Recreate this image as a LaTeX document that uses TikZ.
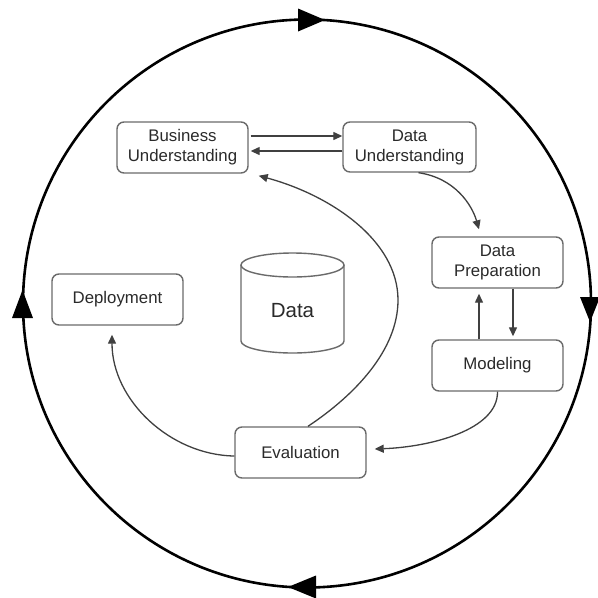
\documentclass[tikz,border=0pt]{standalone}
\usepackage{fontspec}
\setmainfont{Liberation Sans}
\usetikzlibrary{arrows.meta}
\definecolor{boxgray}{HTML}{6A6A6A}
\definecolor{lngray}{HTML}{404040}
\definecolor{txt}{HTML}{2A2A2A}
\begin{document}
\begin{tikzpicture}[x=1pt,y=-1pt,
  box/.style={draw=boxgray, line width=1.4pt, rounded corners=7pt, minimum width=131pt, minimum height=51pt, align=center, font=\fontsize{16.8}{20}\selectfont, text=txt, inner sep=0pt},
  arr/.style={draw=lngray, line width=1.3pt, -{Triangle[length=9pt,width=8pt]}},
  ringtip/.style={fill=black},
  cyl/.style={draw=boxgray, line width=1.4pt}]
\useasboundingbox (0,0) rectangle (598,598);
\fill[white] (0,0) rectangle (598,598);

% outer cycle
\draw[line width=2.6pt] (307,303.5) circle[radius=284];
\fill[ringtip] (325,20) -- (298,8.5) -- (298,31.5) -- cycle;
\fill[ringtip] (288,587) -- (316,575.5) -- (316,598.5) -- cycle;
\fill[ringtip] (22.5,290) -- (12,318) -- (33,318) -- cycle;
\fill[ringtip] (590,322) -- (580,297) -- (600,297) -- cycle;

% boxes
\node[box] (bu)  at (182.5,147.5) {Business\\Understanding};
\node[box, minimum width=133pt, minimum height=50pt] (du) at (409.5,147) {Data\\Understanding};
\node[box] (dp)  at (497.5,262.5) {Data\\Preparation};
\node[box] (mod) at (497.5,365.5) {Modeling};
\node[box] (dep) at (117.5,299.5) {Deployment};
\node[box] (ev)  at (300.5,452.5) {Evaluation};

% data cylinder
\draw[cyl] (241,265) -- (241,341) arc[start angle=180,end angle=0,x radius=51.5,y radius=12] -- (344,265);
\draw[cyl] (292.5,265) ellipse[x radius=51.5,y radius=12];
\node[font=\fontsize{20.5}{24}\selectfont, text=txt] (data) at (292.5,311) {Data};

% connectors
\coordinate (t1) at ([shift={(2,0)},yshift=11.5pt]bu.east);
\coordinate (t2) at ([shift={(2,0)},yshift=-3.5pt]bu.east);
\draw[arr] (t1) -- (t1 -| du.west);
\draw[arr] (t2 -| du.west) -- (t2);

\draw[arr] ([xshift=9pt]du.south) .. controls (455,178) and (472,205) .. ([shift={(-18.5,-7)}]dp.north);

\draw[arr] ([xshift=-18.5pt]mod.north) -- ([xshift=-18.5pt,yshift=-5pt]dp.south);
\draw[arr] ([xshift=15.5pt]dp.south) -- ([xshift=15.5pt,yshift=3pt]mod.north);

\draw[arr] (mod.south) .. controls (498,430) and (430,447) .. ([shift={(8,-3.5)}]ev.east);

\draw[arr] ([yshift=-3.5pt]ev.west) .. controls (170,455) and (112,400) .. ([shift={(-5.5,9)}]dep.south);

\draw[arr] ([xshift=7.5pt]ev.north) .. controls (355,395) and (398,350) .. (398,300)
  .. controls (398,240) and (330,195) .. ([shift={(10,2)}]bu.south east);
\end{tikzpicture}
\end{document}
